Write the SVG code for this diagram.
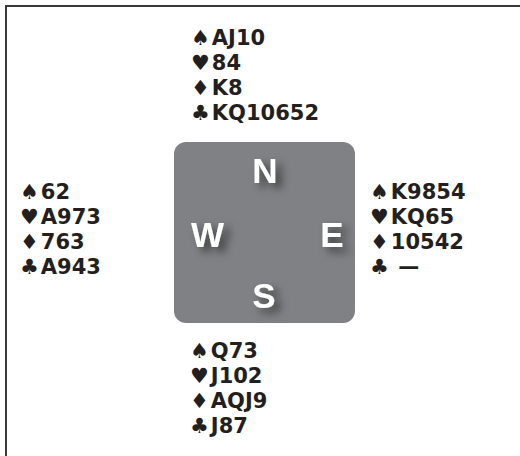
<svg xmlns="http://www.w3.org/2000/svg" width="520" height="456" viewBox="0 0 520 456">
<style>
.hand{font-family:"DejaVu Sans","Liberation Sans",sans-serif;font-weight:bold;font-size:21px;fill:#231f20}
.s{font-family:"DejaVu Sans",sans-serif;font-weight:normal;font-size:21px}
.dir{font-family:"Liberation Sans","DejaVu Sans",sans-serif;font-weight:bold;font-size:35px;fill:#ffffff;text-anchor:middle}
.frame{stroke:#3a3a3a;stroke-width:2;fill:none}
</style>
<defs>
<filter id="sh" x="-100%" y="-100%" width="300%" height="300%">
<feDropShadow dx="6" dy="5" stdDeviation="4" flood-color="#000" flood-opacity="0.55"/>
</filter>
</defs>
<rect width="520" height="456" fill="#fff"/>
<path class="frame" d="M6 456 V6 H520"/>
<g id="table">
<rect x="174" y="142" width="181" height="181" rx="12" fill="#808184"/>
<text class="dir" x="265" y="183" filter="url(#sh)">N</text>
<text class="dir" x="207.5" y="247" filter="url(#sh)">W</text>
<text class="dir" x="332" y="247" filter="url(#sh)">E</text>
<text class="dir" x="264" y="308" filter="url(#sh)">S</text>
</g>
<g id="north">
<text class="hand" x="191" y="45"><tspan class="s">♠</tspan><tspan dx="2">AJ10</tspan></text>
<text class="hand" x="191" y="70"><tspan class="s">♥</tspan><tspan dx="2">84</tspan></text>
<text class="hand" x="191" y="95"><tspan class="s">♦</tspan><tspan dx="2">K8</tspan></text>
<text class="hand" x="191" y="120"><tspan class="s">♣</tspan><tspan dx="2">KQ10652</tspan></text>
</g>
<g id="west">
<text class="hand" x="20" y="199"><tspan class="s">♠</tspan><tspan dx="2">62</tspan></text>
<text class="hand" x="20" y="224"><tspan class="s">♥</tspan><tspan dx="2">A973</tspan></text>
<text class="hand" x="20" y="249"><tspan class="s">♦</tspan><tspan dx="2">763</tspan></text>
<text class="hand" x="20" y="274"><tspan class="s">♣</tspan><tspan dx="2">A943</tspan></text>
</g>
<g id="east">
<text class="hand" x="370" y="199"><tspan class="s">♠</tspan><tspan dx="2">K9854</tspan></text>
<text class="hand" x="370" y="224"><tspan class="s">♥</tspan><tspan dx="2">KQ65</tspan></text>
<text class="hand" x="370" y="249"><tspan class="s">♦</tspan><tspan dx="2">10542</tspan></text>
<text class="hand" x="370" y="274"><tspan class="s">♣</tspan><tspan dx="2"> —</tspan></text>
</g>
<g id="south">
<text class="hand" x="190" y="358"><tspan class="s">♠</tspan><tspan dx="2">Q73</tspan></text>
<text class="hand" x="190" y="383"><tspan class="s">♥</tspan><tspan dx="2">J102</tspan></text>
<text class="hand" x="190" y="408"><tspan class="s">♦</tspan><tspan dx="2">AQJ9</tspan></text>
<text class="hand" x="190" y="433"><tspan class="s">♣</tspan><tspan dx="2">J87</tspan></text>
</g>
<g id="connectors"/>
</svg>
